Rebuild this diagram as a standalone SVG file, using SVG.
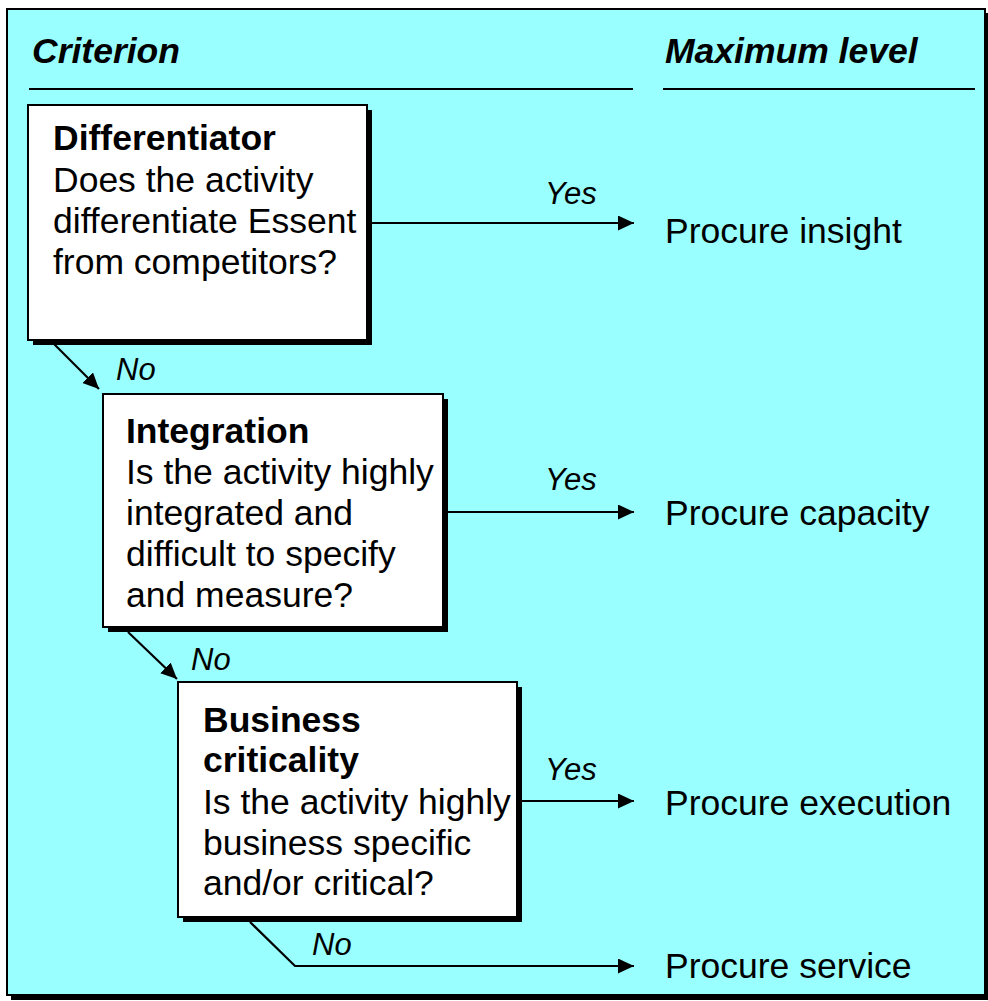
<svg xmlns="http://www.w3.org/2000/svg" width="988" height="1001" viewBox="0 0 988 1001">
<style>
.t{font-family:"Liberation Sans",Arial,sans-serif;font-size:35.5px;fill:#000}
.b{font-weight:bold}
.h{font-family:"Liberation Sans",Arial,sans-serif;font-size:35.5px;font-weight:bold;font-style:italic;fill:#000}
.l{font-family:"Liberation Sans",Arial,sans-serif;font-size:31px;font-style:italic;fill:#000}
.box{fill:#fff;stroke:#000;stroke-width:2}
.sh{fill:#000}
.c{fill:none;stroke:#000;stroke-width:2.2}
</style>
<defs>
<marker id="ah" markerUnits="userSpaceOnUse" markerWidth="18" markerHeight="16" refX="16" refY="7.5" orient="auto">
<path d="M0,0 L16,7.5 L0,15 Z" fill="#000"/>
</marker>
</defs>
<rect x="11" y="13" width="978" height="987" class="sh"/>
<rect x="7" y="9" width="978" height="986" fill="#99FFFF" stroke="#000" stroke-width="2"/>
<g id="headers">
<text x="32" y="63" class="h">Criterion</text>
<text x="665" y="63" class="h">Maximum level</text>
<line x1="29" y1="89" x2="633" y2="89" stroke="#000" stroke-width="2.2"/>
<line x1="663" y1="89" x2="975" y2="89" stroke="#000" stroke-width="2.2"/>
</g>
<g id="box1">
<rect x="33" y="110" width="339" height="235" class="sh"/>
<rect x="28" y="105" width="339" height="235" class="box"/>
<text x="53" y="150" class="t b">Differentiator</text>
<text x="53" y="192" class="t">Does the activity</text>
<text x="53" y="233" class="t">differentiate Essent</text>
<text x="53" y="274" class="t">from competitors?</text>
</g>
<g id="box2">
<rect x="108" y="399" width="340" height="233" class="sh"/>
<rect x="103" y="394" width="340" height="233" class="box"/>
<text x="126" y="443" class="t b">Integration</text>
<text x="126" y="484" class="t">Is the activity highly</text>
<text x="126" y="525" class="t">integrated and</text>
<text x="126" y="566" class="t">difficult to specify</text>
<text x="126" y="607" class="t">and measure?</text>
</g>
<g id="box3">
<rect x="183" y="687" width="339" height="235" class="sh"/>
<rect x="178" y="682" width="339" height="235" class="box"/>
<text x="203" y="732" class="t b">Business</text>
<text x="203" y="772" class="t b">criticality</text>
<text x="203" y="814" class="t">Is the activity highly</text>
<text x="203" y="855" class="t">business specific</text>
<text x="203" y="895" class="t">and/or critical?</text>
</g>
<g id="out1"><text x="665" y="243" class="t">Procure insight</text></g>
<g id="out2"><text x="665" y="525" class="t">Procure capacity</text></g>
<g id="out3"><text x="665" y="815" class="t">Procure execution</text></g>
<g id="out4"><text x="665" y="978" class="t">Procure service</text></g>
<g id="connectors">
<line x1="368" y1="223" x2="634" y2="223" class="c" marker-end="url(#ah)"/>
<line x1="444" y1="512" x2="634" y2="512" class="c" marker-end="url(#ah)"/>
<line x1="518" y1="801" x2="634" y2="801" class="c" marker-end="url(#ah)"/>
<polyline points="250,922 295,966 634,966" class="c" marker-end="url(#ah)"/>
<line x1="53" y1="343" x2="99" y2="389" class="c" marker-end="url(#ah)"/>
<line x1="128" y1="632" x2="177" y2="679" class="c" marker-end="url(#ah)"/>
<text x="545" y="204" class="l">Yes</text>
<text x="545" y="490" class="l">Yes</text>
<text x="545" y="780" class="l">Yes</text>
<text x="116" y="380" class="l">No</text>
<text x="191" y="670" class="l">No</text>
<text x="312" y="955" class="l">No</text>
</g>
</svg>
